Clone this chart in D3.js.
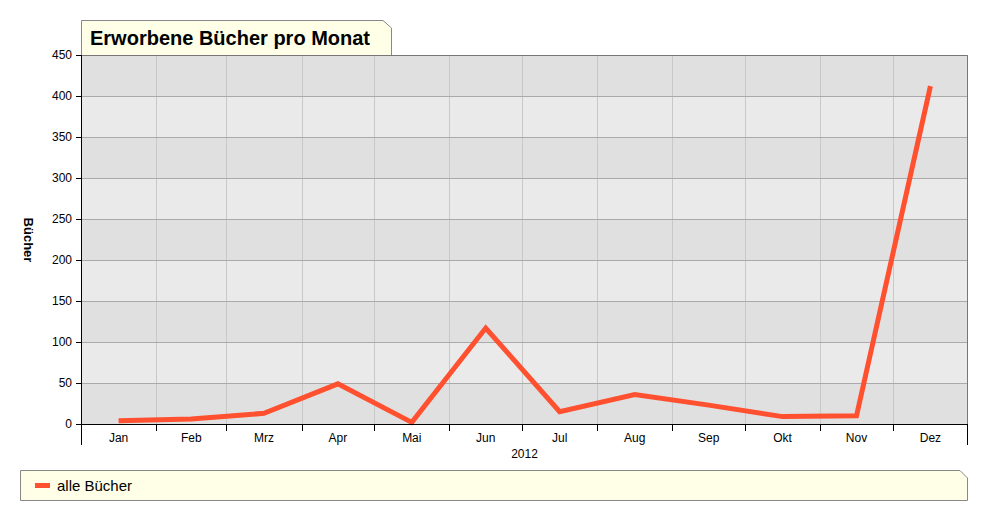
<!DOCTYPE html>
<html lang="de">
<head>
  <meta charset="UTF-8">
  <title>Erworbene Bücher pro Monat</title>
  <script src="https://d3js.org/d3.v7.min.js"></script>
  <style>
    body { margin: 0; background: #fff; font-family: "Liberation Sans", Arial, sans-serif; }
  </style>
</head>
<body>
  <script>
    // Chart data
    const months = ["Jan", "Feb", "Mrz", "Apr", "Mai", "Jun", "Jul", "Aug", "Sep", "Okt", "Nov", "Dez"];
    const books = [4, 6, 13, 49, 2, 117, 15, 36, 23, 9, 10, 412];
    const yTicks = [0, 50, 100, 150, 200, 250, 300, 350, 400, 450];
    const year = 2012;

    const width = 988;
    const height = 521;
    const margin = { top: 55, right: 20, bottom: 97, left: 81 };
    const plotW = width - margin.left - margin.right;
    const plotH = height - margin.top - margin.bottom;

    const svg = d3.select("body")
      .append("svg")
      .attr("width", width)
      .attr("height", height);

    // x is a time scale over the year, so months get their real width
    const x = d3.scaleTime()
      .domain([new Date(year, 0, 1), new Date(year + 1, 0, 1)])
      .range([0, plotW]);

    const y = d3.scaleLinear()
      .domain([0, 450])
      .range([plotH, 0]);

    const monthStart = months.map((m, i) => new Date(year, i, 1));
    const monthEnd = months.map((m, i) => new Date(year, i + 1, 1));
    const monthMid = months.map((m, i) => new Date((monthStart[i].getTime() + monthEnd[i].getTime()) / 2));

    const g = svg.append("g")
      .attr("transform", `translate(${margin.left},${margin.top})`);

    // alternating background bands
    g.selectAll("rect.band")
      .data(yTicks.slice(0, -1))
      .enter()
      .append("rect")
      .attr("x", 0)
      .attr("width", plotW)
      .attr("y", d => y(d + 50))
      .attr("height", d => y(d) - y(d + 50))
      .attr("fill", (d, i) => i % 2 === 0 ? "#e0e0e0" : "#eaeaea");

    // vertical grid at month boundaries
    g.selectAll("line.vgrid")
      .data(monthStart.slice(1))
      .enter()
      .append("line")
      .attr("x1", d => Math.round(x(d)) + 0.5)
      .attr("x2", d => Math.round(x(d)) + 0.5)
      .attr("y1", 0)
      .attr("y2", plotH)
      .attr("stroke", "#c8c8c8");

    // horizontal grid
    g.selectAll("line.hgrid")
      .data(yTicks.slice(1))
      .enter()
      .append("line")
      .attr("x1", 0)
      .attr("x2", plotW)
      .attr("y1", d => Math.round(y(d)) + 0.5)
      .attr("y2", d => Math.round(y(d)) + 0.5)
      .attr("stroke", "#aaaaaa");

    // plot border top & right
    g.append("path")
      .attr("d", `M0,0.5H${plotW - 0.5}V${plotH}`)
      .attr("fill", "none")
      .attr("stroke", "#777");

    // data line
    const line = d3.line()
      .x((d, i) => x(monthMid[i]))
      .y(d => y(d));

    g.append("path")
      .datum(books)
      .attr("d", line)
      .attr("fill", "none")
      .attr("stroke", "#ff5030")
      .attr("stroke-width", 5)
      .attr("stroke-linejoin", "miter");

    // y axis
    const yAxis = g.append("g")
      .call(d3.axisLeft(y).tickValues(yTicks).tickSize(5).tickPadding(4));
    yAxis.select(".domain").remove();
    yAxis.selectAll("text").attr("font-size", 12).attr("font-family", "Liberation Sans, Arial, sans-serif").attr("fill", "#000");
    g.append("line")
      .attr("x1", 0.5).attr("x2", 0.5)
      .attr("y1", 0).attr("y2", plotH + 21)
      .attr("stroke", "#000");

    // x axis: ticks at month boundaries, labels in the middle
    const xAxis = g.append("g")
      .attr("transform", `translate(0,${plotH})`);
    xAxis.append("line")
      .attr("x1", 0).attr("x2", plotW)
      .attr("y1", 0.5).attr("y2", 0.5)
      .attr("stroke", "#000");
    xAxis.selectAll("line.tick")
      .data(monthStart.slice(1))
      .enter()
      .append("line")
      .attr("x1", d => Math.round(x(d)) + 0.5)
      .attr("x2", d => Math.round(x(d)) + 0.5)
      .attr("y1", 0)
      .attr("y2", 7)
      .attr("stroke", "#000");
    xAxis.append("line")
      .attr("x1", plotW - 0.5).attr("x2", plotW - 0.5)
      .attr("y1", 0).attr("y2", 21)
      .attr("stroke", "#000");
    xAxis.selectAll("text.month")
      .data(months)
      .enter()
      .append("text")
      .attr("x", (d, i) => x(monthMid[i]))
      .attr("y", 18)
      .attr("text-anchor", "middle")
      .attr("font-size", 12)
      .text(d => d);
    xAxis.append("text")
      .attr("x", plotW / 2)
      .attr("y", 34)
      .attr("text-anchor", "middle")
      .attr("font-size", 12)
      .text(year);

    // y axis title
    svg.append("text")
      .attr("transform", `translate(24,240) rotate(90)`)
      .attr("text-anchor", "middle")
      .attr("font-size", 13)
      .attr("font-weight", "bold")
      .text("Bücher");

    // title box with clipped corner
    const tx0 = 81, tx1 = 391, ty0 = 20, ty1 = 55;
    svg.append("path")
      .attr("d", `M${tx0 + 0.5},${ty1}V${ty0 + 0.5}H${tx1 - 8}L${tx1 + 0.5},${ty0 + 8}V${ty1}`)
      .attr("fill", "#ffffe8")
      .attr("stroke", "#888");
    svg.append("text")
      .attr("x", 90)
      .attr("y", 45)
      .attr("font-size", 20)
      .attr("font-weight", "bold")
      .text("Erworbene Bücher pro Monat");

    // legend box
    const lx0 = 20, lx1 = 968, ly0 = 470, ly1 = 501;
    svg.append("path")
      .attr("d", `M${lx0 + 0.5},${ly0 + 0.5}H${lx1 - 8}L${lx1 - 0.5},${ly0 + 8}V${ly1 - 0.5}H${lx0 + 0.5}Z`)
      .attr("fill", "#ffffe8")
      .attr("stroke", "#888");
    svg.append("line")
      .attr("x1", 35).attr("x2", 50)
      .attr("y1", 485.5).attr("y2", 485.5)
      .attr("stroke", "#ff5030")
      .attr("stroke-width", 5);
    svg.append("text")
      .attr("x", 57)
      .attr("y", 491)
      .attr("font-size", 15)
      .text("alle Bücher");
  </script>
</body>
</html>
